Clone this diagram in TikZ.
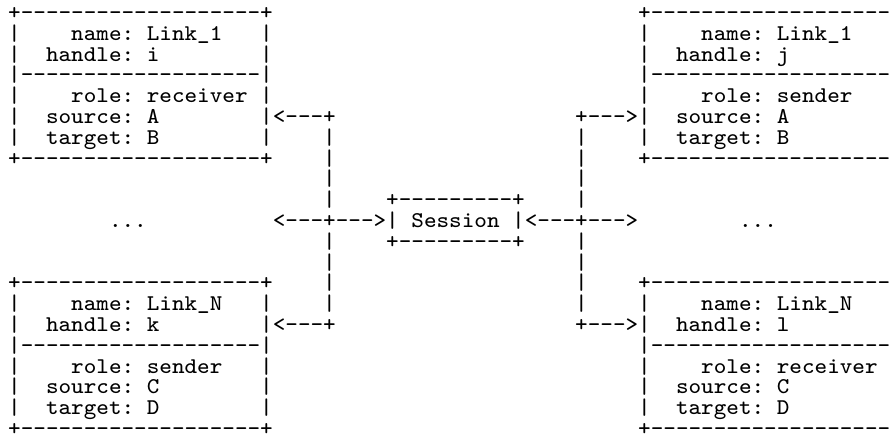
\documentclass[tikz,border=0pt]{standalone}
\usepackage{fontspec}
\setmonofont{lmmono8-regular.otf}
\newcommand\ascfont{\fontsize{22.5}{22.5}\selectfont\ttfamily\frenchspacing}
\newlength\cellw
\settowidth\cellw{\ascfont M}
\pgfmathsetmacro\kx{12.6/\cellw}
\tikzset{
  asc/.style={anchor=base west, inner sep=0pt, outer sep=0pt, font=\ascfont},
}
\newcommand\sx[1]{\scalebox{\kx}[1]{#1}}
\newcommand\dashes{-------------------}
\newcommand\tn[4]{\node[asc] (#1) at (#2,#3) {\sx{#4}};}
\begin{document}
\begin{tikzpicture}[x=12.6pt,y=-20.8pt]
\useasboundingbox (-0.651,-0.9375) rectangle (69.98,19.88);
% left top box
\tn{a0}{0}{0}{+\dashes+}
\tn{a1l}{0}{1}{|}\tn{a1t}{5}{1}{name: Link\_1}\tn{a1r}{20}{1}{|}
\tn{a2l}{0}{2}{|}\tn{a2t}{3}{2}{handle: i}\tn{a2r}{20}{2}{|}
\tn{a3}{0}{3}{|\dashes|}
\tn{a4l}{0}{4}{|}\tn{a4t}{5}{4}{role: receiver}\tn{a4r}{20}{4}{|}
\tn{a5l}{0}{5}{|}\tn{a5t}{3}{5}{source: A}\tn{a5r}{20}{5}{|<---+}
\tn{a6l}{0}{6}{|}\tn{a6t}{3}{6}{target: B}\tn{a6r}{20}{6}{|}
\tn{a7}{0}{7}{+\dashes+}
% right top box
\tn{b0}{50}{0}{+\dashes}
\tn{b1l}{50}{1}{|}\tn{b1t}{55}{1}{name: Link\_1}
\tn{b2l}{50}{2}{|}\tn{b2t}{53}{2}{handle: j}
\tn{b3}{50}{3}{|\dashes}
\tn{b4l}{50}{4}{|}\tn{b4t}{55}{4}{role: sender}
\tn{b5l}{45}{5}{+--->|}\tn{b5t}{53}{5}{source: A}
\tn{b6l}{50}{6}{|}\tn{b6t}{53}{6}{target: B}
\tn{b7}{50}{7}{+\dashes}
% vertical connectors
\foreach \r in {6,7,8,9,11,12,13,14}{
  \tn{vl\r}{25}{\r}{|}
  \tn{vr\r}{45}{\r}{|}
}
% session
\tn{s9}{30}{9}{+---------+}
\tn{s10}{21}{10}{<---+--->| Session |<---+--->}
\tn{s11}{30}{11}{+---------+}
\tn{d1}{8}{10}{...}
\tn{d2}{58}{10}{...}
% left bottom box
\tn{c13}{0}{13}{+\dashes+}
\tn{c14l}{0}{14}{|}\tn{c14t}{5}{14}{name: Link\_N}\tn{c14r}{20}{14}{|}
\tn{c15l}{0}{15}{|}\tn{c15t}{3}{15}{handle: k}\tn{c15r}{20}{15}{|<---+}
\tn{c16}{0}{16}{|\dashes|}
\tn{c17l}{0}{17}{|}\tn{c17t}{5}{17}{role: sender}\tn{c17r}{20}{17}{|}
\tn{c18l}{0}{18}{|}\tn{c18t}{3}{18}{source: C}\tn{c18r}{20}{18}{|}
\tn{c19l}{0}{19}{|}\tn{c19t}{3}{19}{target: D}\tn{c19r}{20}{19}{|}
\tn{c20}{0}{20}{+\dashes+}
% right bottom box
\tn{e13}{50}{13}{+\dashes}
\tn{e14l}{50}{14}{|}\tn{e14t}{55}{14}{name: Link\_N}
\tn{e15l}{45}{15}{+--->|}\tn{e15t}{53}{15}{handle: l}
\tn{e16}{50}{16}{|\dashes}
\tn{e17l}{50}{17}{|}\tn{e17t}{55}{17}{role: receiver}
\tn{e18l}{50}{18}{|}\tn{e18t}{53}{18}{source: C}
\tn{e19l}{50}{19}{|}\tn{e19t}{53}{19}{target: D}
\tn{e20}{50}{20}{+\dashes}
\end{tikzpicture}
\end{document}
